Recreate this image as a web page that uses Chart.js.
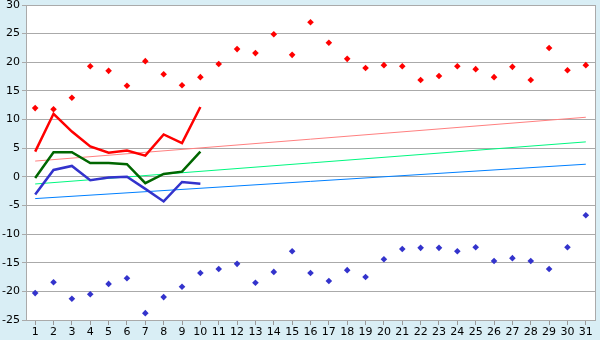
<!DOCTYPE html>
<html>
<head>
<meta charset="utf-8">
<script src="https://cdn.jsdelivr.net/npm/chart.js@4/dist/chart.umd.min.js"></script>
<style>
html,body{margin:0;padding:0;background:#d9eef5;}
#wrap{width:600px;height:340px;}
</style>
</head>
<body>
<div id="wrap"><canvas id="c" width="600" height="340"></canvas></div>
<script>
const days = ['1','2','3','4','5','6','7','8','9','10','11','12','13','14','15','16','17','18','19','20','21','22','23','24','25','26','27','28','29','30','31'];
const recordHigh = [12.0,11.8,13.8,19.3,18.5,15.9,20.2,17.9,16.0,17.4,19.7,22.3,21.6,24.9,21.3,27.0,23.4,20.6,19.0,19.5,19.3,16.9,17.6,19.3,18.8,17.4,19.2,16.9,22.5,18.6,19.5];
const recordLow = [-20.3,-18.4,-21.3,-20.5,-18.7,-17.7,-23.8,-21.0,-19.2,-16.8,-16.1,-15.2,-18.5,-16.6,-13.0,-16.8,-18.2,-16.3,-17.5,-14.4,-12.6,-12.4,-12.4,-13.0,-12.3,-14.7,-14.2,-14.7,-16.1,-12.3,-6.7];
const dailyMax = [4.4,11.0,7.9,5.3,4.2,4.6,3.7,7.4,5.9,12.2];
const dailyMean = [-0.2,4.3,4.3,2.4,2.4,2.2,-1.1,0.5,0.9,4.4];
const dailyMin = [-3.1,1.2,1.9,-0.6,-0.1,0.0,-2.1,-4.3,-0.9,-1.2];
const normalMaxEnds = [2.75,10.4];
const normalMeanEnds = [-1.25,6.1];
const normalMinEnds = [-3.8,2.2];
const yTicks = [-25,-20,-15,-10,-5,0,5,10,15,20,25,30];

function ends(e){ return days.map((d,i)=> i===0 ? e[0] : (i===days.length-1 ? e[1] : null)); }

const bgPlugin = {
  id:'bg',
  beforeDraw(chart){
    const {ctx, chartArea:a} = chart;
    ctx.save();
    ctx.fillStyle='#d9eef5';
    ctx.fillRect(0,0,chart.width,chart.height);
    ctx.fillStyle='#ffffff';
    ctx.fillRect(a.left,a.top,a.right-a.left,a.bottom-a.top);
    ctx.restore();
  },
  afterDraw(chart){
    const {ctx, chartArea:a} = chart;
    ctx.save();
    ctx.strokeStyle='#aaaaaa';
    ctx.lineWidth=1;
    ctx.strokeRect(Math.round(a.left)+0.5,Math.round(a.top)+0.5,Math.round(a.right-a.left),Math.round(a.bottom-a.top));
    ctx.restore();
  }
};

const font = {family:'"DejaVu Sans", Verdana, sans-serif', size:11};

new Chart(document.getElementById('c'), {
  type:'line',
  data:{
    labels: days,
    datasets:[
      {data: ends(normalMaxEnds), borderColor:'#ff8080', borderWidth:1, pointRadius:0, spanGaps:true, order:5},
      {data: ends(normalMeanEnds), borderColor:'#00f880', borderWidth:1, pointRadius:0, spanGaps:true, order:5},
      {data: ends(normalMinEnds), borderColor:'#0080ff', borderWidth:1, pointRadius:0, spanGaps:true, order:5},
      {data: dailyMax, borderColor:'#ff0000', borderWidth:2.5, pointRadius:0, order:3},
      {data: dailyMean, borderColor:'#006600', borderWidth:2.5, pointRadius:0, order:3},
      {data: dailyMin, borderColor:'#3333cc', borderWidth:2.5, pointRadius:0, order:3},
      {data: recordHigh, showLine:false, pointStyle:'rectRot', pointRadius:3.3, pointBorderWidth:0, pointBackgroundColor:'#ff0000', borderColor:'#ff0000', order:1},
      {data: recordLow, showLine:false, pointStyle:'rectRot', pointRadius:3.3, pointBorderWidth:0, pointBackgroundColor:'#3333cc', borderColor:'#3333cc', order:1}
    ]
  },
  options:{
    responsive:false,
    animation:false,
    events:[],
    elements:{line:{tension:0}},
    layout:{padding:{top:5,right:5,left:0,bottom:0}},
    plugins:{legend:{display:false}, tooltip:{enabled:false}},
    scales:{
      x:{
        offset:true,
        grid:{display:true, drawOnChartArea:false, color:'#999999', tickLength:5, offset:false},
        border:{display:true, color:'#aaaaaa'},
        ticks:{font, color:'#000000', padding:1, maxRotation:0, autoSkip:false},
        afterFit(s){ s.height=20; }
      },
      y:{
        min:-25, max:30,
        afterBuildTicks(s){ s.ticks = yTicks.map(v=>({value:v})); },
        grid:{color:'#aaaaaa', tickLength:4},
        border:{display:true, color:'#aaaaaa'},
        ticks:{font, color:'#000000', padding:2},
        afterFit(s){ s.width=26; s.paddingTop=0; s.paddingBottom=0; }
      }
    }
  },
  plugins:[bgPlugin]
});
</script>
</body>
</html>
